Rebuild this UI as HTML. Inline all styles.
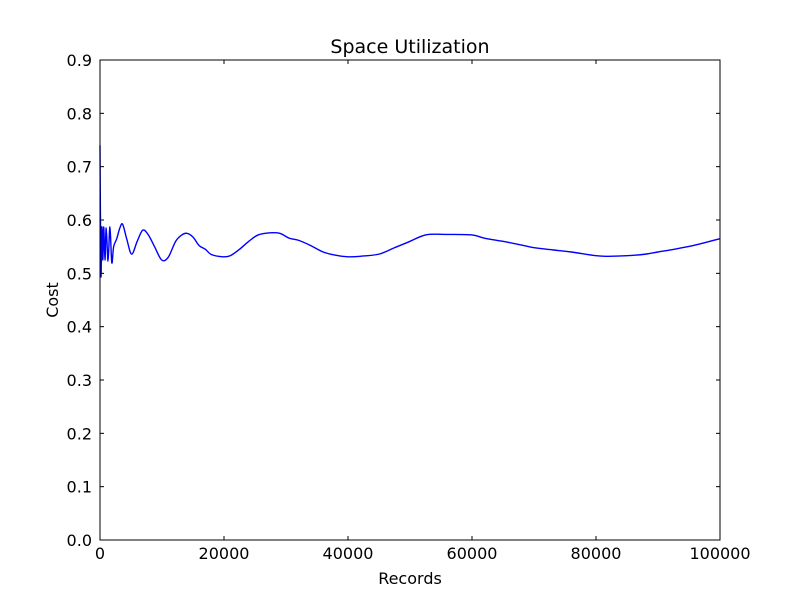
<!DOCTYPE html>
<html><head><meta charset="utf-8"><style>
body{margin:0;background:#fff;}
svg text{font-family:"DejaVu Sans","Liberation Sans",sans-serif;}
</style></head><body>
<svg id="chart" width="800" height="600" xmlns="http://www.w3.org/2000/svg">
<rect width="800" height="600" fill="#fff"/>
<g id="plot"></g>
</svg>
<script>
const records=[0,150,300,450,600,800,1000,1300,1600,1900,2200,2700,3200,3650,4300,5100,6000,6900,7800,8800,9950,11000,12200,13200,14000,15000,16000,17000,18000,19800,21000,22500,24000,25500,27400,29000,30500,32000,34000,36000,38000,40000,42000,45000,47500,50000,51500,53000,56000,60000,62000,65000,68000,70000,73000,76000,80000,82000,85000,88000,90000,93000,96000,100000];
const cost=[0.74,0.497,0.587,0.525,0.587,0.525,0.585,0.523,0.587,0.52,0.55,0.565,0.585,0.592,0.565,0.536,0.56,0.581,0.572,0.55,0.525,0.53,0.56,0.572,0.575,0.568,0.552,0.545,0.535,0.531,0.533,0.545,0.56,0.572,0.576,0.575,0.566,0.562,0.552,0.54,0.534,0.531,0.532,0.536,0.548,0.56,0.568,0.573,0.573,0.572,0.566,0.56,0.553,0.548,0.544,0.54,0.533,0.532,0.533,0.536,0.54,0.546,0.553,0.565];
const xTicks=[0,20000,40000,60000,80000,100000];
const yTicks=[0,0.1,0.2,0.3,0.4,0.5,0.6,0.7,0.8,0.9];
const L=100,R=720,T=60,B=540;
const xs=v=>L+(v/100000)*(R-L);
const ys=v=>B-(v/0.9)*(B-T);
const NS="http://www.w3.org/2000/svg";
const g=document.getElementById('plot');
function mk(t,a){const e=document.createElementNS(NS,t);for(const k in a)e.setAttribute(k,a[k]);g.appendChild(e);return e;}
const P=records.map((r,i)=>[xs(r),ys(cost[i])]);
let d='M'+P[0][0].toFixed(2)+','+P[0][1].toFixed(2);
for(let i=0;i<P.length-1;i++){
  const p0=P[Math.max(0,i-1)],p1=P[i],p2=P[i+1],p3=P[Math.min(P.length-1,i+2)];
  const c1=[p1[0]+(p2[0]-p0[0])/6,p1[1]+(p2[1]-p0[1])/6];
  const c2=[p2[0]-(p3[0]-p1[0])/6,p2[1]-(p3[1]-p1[1])/6];
  d+='C'+c1[0].toFixed(2)+','+c1[1].toFixed(2)+' '+c2[0].toFixed(2)+','+c2[1].toFixed(2)+' '+p2[0].toFixed(2)+','+p2[1].toFixed(2);
}
const line=mk('path',{d:d,fill:'none',stroke:'#0000ff','stroke-width':1.4});


xTicks.forEach(v=>{
  const x=xs(v);
  const t1=mk('line',{x1:x,x2:x,y1:B,y2:B-4,stroke:'#000'});
  
  
  mk('line',{x1:x,x2:x,y1:T,y2:T+4,stroke:'#000'});
  const tx=mk('text',{x:x,y:B+19,'text-anchor':'middle','font-size':16});
  tx.textContent=String(v);
  
  
});
yTicks.forEach(v=>{
  const y=ys(v);
  const t1=mk('line',{x1:L,x2:L+4,y1:y,y2:y,stroke:'#000'});
  
  
  mk('line',{x1:R,x2:R-4,y1:y,y2:y,stroke:'#000'});
  const tx=mk('text',{x:L-8,y:y+6,'text-anchor':'end','font-size':16});
  tx.textContent=v.toFixed(1);
  
  
});
const fr=mk('rect',{x:L,y:T,width:R-L,height:B-T,fill:'none',stroke:'#000','stroke-width':1});


const ti=mk('text',{x:410,y:53,'text-anchor':'middle','font-size':19});
ti.textContent='Space Utilization';


const xl=mk('text',{x:410,y:584,'text-anchor':'middle','font-size':16});
xl.textContent='Records';


const yl=mk('text',{x:58,y:300,'text-anchor':'middle','font-size':16,transform:'rotate(-90 58 300)'});
yl.textContent='Cost';


</script>
</body></html>
